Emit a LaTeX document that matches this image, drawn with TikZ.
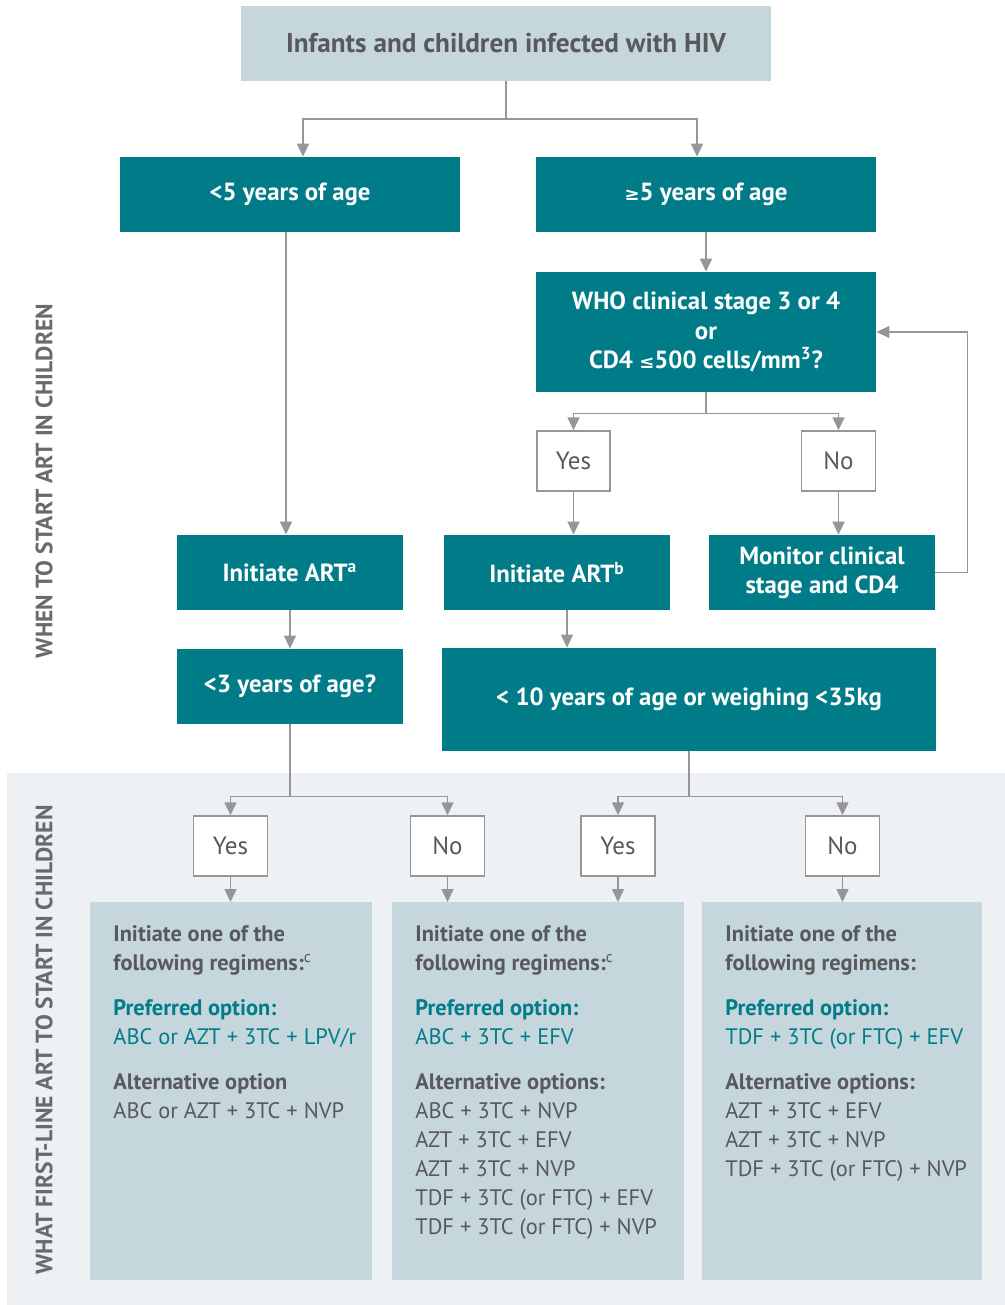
\documentclass[tikz,border=0pt]{standalone}
\usepackage{fontspec}
\setmainfont{PT Sans}
\newfontfamily\symfont{DejaVu Sans}
\usetikzlibrary{arrows.meta,positioning}
\definecolor{whoteal}{RGB}{0,124,137}
\definecolor{boxgrey}{RGB}{197,214,221}
\definecolor{panelgrey}{RGB}{237,241,243}
\definecolor{textgrey}{RGB}{88,89,91}
\definecolor{linegrey}{RGB}{150,150,154}
\tikzset{
  headbox/.style={fill=boxgrey,text=textgrey,font=\fontsize{13.6}{15}\selectfont\bfseries,inner sep=0pt,
    minimum width=265pt,minimum height=37.5pt},
  decision/.style={fill=whoteal,text=white,font=\fontsize{12.4}{14.6}\selectfont\bfseries,align=center,inner sep=0pt,
    minimum width=113pt,minimum height=37.5pt},
  answer/.style={draw=linegrey,line width=0.75pt,fill=white,text=textgrey,font=\fontsize{12.5}{15}\selectfont,
    inner sep=0pt,minimum width=37pt,minimum height=30pt},
  regimen/.style={fill=boxgrey,anchor=north west,inner sep=0pt,minimum height=189pt},
  regtext/.style={anchor=north west,align=left,inner sep=0pt,text=textgrey,font=\fontsize{11.2}{14.5}\selectfont},
  flow/.style={draw=linegrey,line width=0.75pt,-{Triangle[width=6pt,length=6.5pt]}},
  link/.style={draw=linegrey,line width=0.75pt},
  sidelabel/.style={rotate=90,text=textgrey!90,font=\fontsize{11.8}{13}\selectfont\bfseries}
}
\newcommand{\pref}[1]{\textcolor{whoteal}{#1}}

\begin{document}
\begin{tikzpicture}[x=0.5pt,y=-0.5pt]
\useasboundingbox (0,0) rectangle (1005,1305);
\fill[panelgrey] (7,773) rectangle (1005,1305);

\node[headbox] (infants) at (506,43.5) {Infants and children infected with HIV};
\node[decision,minimum width=170pt] (under5) at (290,194.5) {<5 years of age};
\node[decision,minimum width=170pt] (over5) at (706,194.5) {{\symfont\small ≥}5 years of age};
\node[decision,minimum width=170pt,minimum height=60pt] (stage) at (706,332)
  {WHO clinical stage 3 or 4\\or\\CD4 {\symfont\small ≤}500 cells/mm\textsuperscript{3}?};
\node[answer,minimum width=36.5pt] (yesA) at (573.5,461) {Yes};
\node[answer] (noA) at (838.5,461) {No};
\node[decision] (artA) at (290,572.5) {Initiate ART\textsuperscript{a}};
\node[decision] (artB) at (557,572.5) {Initiate ART\textsuperscript{b}};
\node[decision] (monitor) at (822,572.5) {Monitor clinical\\stage and CD4};
\node[decision] (under3) at (290,686.5) {<3 years of age?};
\node[decision,minimum width=247pt,minimum height=51.5pt] (under10) at (689,699.5)
  {< 10 years of age or weighing <35kg};
\node[answer] (yesB) at (230.5,846) {Yes};
\node[answer] (noB) at (447.5,846) {No};
\node[answer] (yesC) at (618,846) {Yes};
\node[answer] (noC) at (842.5,846) {No};

\node[regimen,minimum width=141pt] (regA) at (90,902) {};
\node[regimen,minimum width=146pt] (regB) at (392,902) {};
\node[regimen,minimum width=140pt] (regC) at (702,902) {};

\node[regtext] (txtA) at (113,925) {\textbf{Initiate one of the}\\\textbf{following regimens:}\textsuperscript{c}\\[8pt]
  \pref{\textbf{Preferred option:}}\\\pref{ABC or AZT + 3TC + LPV/r}\\[8pt]
  \textbf{Alternative option}\\ABC or AZT + 3TC + NVP};
\node[regtext] (txtB) at (415,925) {\textbf{Initiate one of the}\\\textbf{following regimens:}\textsuperscript{c}\\[8pt]
  \pref{\textbf{Preferred option:}}\\\pref{ABC + 3TC + EFV}\\[8pt]
  \textbf{Alternative options:}\\ABC + 3TC + NVP\\AZT + 3TC + EFV\\AZT + 3TC + NVP\\
  TDF + 3TC (or FTC) + EFV\\TDF + 3TC (or FTC) + NVP};
\node[regtext] (txtC) at (725,925) {\textbf{Initiate one of the}\\\textbf{following regimens:}\\[8pt]
  \pref{\textbf{Preferred option:}}\\\pref{TDF + 3TC (or FTC) + EFV}\\[8pt]
  \textbf{Alternative options:}\\AZT + 3TC + EFV\\AZT + 3TC + NVP\\TDF + 3TC (or FTC) + NVP};

\node[sidelabel] (when) at (44,481) {WHEN TO START ART IN CHILDREN};
\node[sidelabel] (what) at (44,1040) {WHAT FIRST-LINE ART TO START IN CHILDREN};

\coordinate (split) at (506,119);
\draw[link] (infants) -- (split);
\draw[flow] (split) -| ([xshift=6.5pt]under5.north);
\draw[flow] (split) -| ([xshift=-4.5pt]over5.north);
\draw[flow] ([xshift=-2pt]under5.south) -- ([xshift=-2pt]artA.north);
\draw[flow] (over5) -- (stage);
\draw[flow] (stage.south) -- ++(0,21) -| (yesA.north);
\draw[flow] (stage.south) -- ++(0,21) -| (noA.north);
\draw[flow] (yesA) -- (yesA |- artB.north);
\draw[flow] (noA) -- (noA |- monitor.north);
\draw[flow] (monitor.east) -- ++(32,0) |- (stage.east);
\draw[flow] (artA) -- (under3);
\draw[flow] ([xshift=5pt]artB.south) -- ([xshift=5pt]artB.south |- under10.north);
\draw[flow] (under3.south) -- ++(0,72) -| (yesB.north);
\draw[flow] (under3.south) -- ++(0,72) -| (noB.north);
\draw[flow] (under10.south) -- ++(0,45) -| (yesC.north);
\draw[flow] (under10.south) -- ++(0,45) -| (noC.north);
\draw[flow] (yesB) -- (yesB |- regA.north);
\draw[flow] (noB) -- (noB |- regB.north);
\draw[flow] (yesC) -- (yesC |- regB.north);
\draw[flow] (noC) -- (noC |- regC.north);
\end{tikzpicture}
\end{document}
